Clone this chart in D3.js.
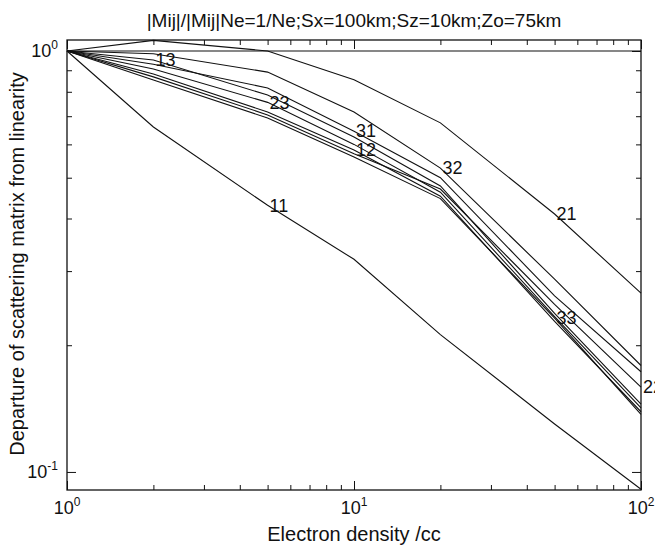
<!DOCTYPE html>
<html>
<head>
<meta charset="utf-8">
<script src="https://cdn.jsdelivr.net/npm/d3@7"></script>
<style>
body { margin: 0; background: #fff; }
text { font-family: "Liberation Sans", Arial, Helvetica, sans-serif; fill: #111; }
</style>
</head>
<body>
<script>
// electron density (cc) at which each element was evaluated
var density = [1, 2, 5, 10, 20, 50, 100];

// departure from linearity of each scattering matrix element
var m11 = [1, 0.66, 0.43, 0.32, 0.212, 0.13, 0.091];
var m12 = [1, 0.882, 0.716, 0.582, 0.452, 0.228, 0.139];
var m13 = [1, 0.952, 0.786, 0.625, 0.478, 0.238, 0.145];
var m21 = [1, 1.06, 1.0, 0.855, 0.675, 0.41, 0.266];
var m22 = [1, 0.868, 0.705, 0.57, 0.47, 0.25, 0.159];
var m23 = [1, 0.906, 0.755, 0.60, 0.462, 0.234, 0.142];
var m31 = [1, 0.93, 0.817, 0.645, 0.50, 0.262, 0.173];
var m32 = [1, 0.985, 0.891, 0.716, 0.527, 0.287, 0.179];
var m33 = [1, 0.853, 0.693, 0.56, 0.446, 0.232, 0.137];
var unity = [1, 1, 1, 1, 1, 1, 1];

var names = ["11", "12", "13", "21", "22", "23", "31", "32", "33"];
// index into density where each element's name is written
var labelAt = [2, 3, 1, 5, 6, 2, 3, 4, 5];

var xTickExp = [0, 1, 2];
var yTickExp = [0, -1];

var series = [m11, m12, m13, m21, m22, m23, m31, m32, m33];

var width = 655, height = 548;

var x = d3.scaleLog().domain([1, 100]).range([67, 641]);
var y = d3.scaleLog().domain([0.0906, 1.062]).range([490, 40]);

var svg = d3.select("body").append("svg")
    .attr("width", width)
    .attr("height", height)
    .style("color", "#111");

var xMajor = xTickExp.map(function(e) { return Math.pow(10, e); });
var yMajor = yTickExp.map(function(e) { return Math.pow(10, e); });
var xMinor = x.ticks().filter(function(v) { return xMajor.indexOf(v) < 0; });
var yMinor = y.ticks().filter(function(v) { return yMajor.indexOf(v) < 0 && v > 0.15; });

// ticks point inward on all four sides
function ticks(axisFn, scale, values, size, tr) {
  svg.append("g")
      .attr("transform", tr)
      .call(axisFn(scale).tickValues(values).tickSize(-size).tickSizeOuter(0).tickFormat(""))
      .call(function(g) { g.select(".domain").remove(); })
      .selectAll("line").attr("stroke-width", 1);
}
ticks(d3.axisBottom, x, xMajor, 9, "translate(0,490)");
ticks(d3.axisBottom, x, xMinor, 5, "translate(0,490)");
ticks(d3.axisTop, x, xMajor, 9, "translate(0,40)");
ticks(d3.axisTop, x, xMinor, 5, "translate(0,40)");
ticks(d3.axisLeft, y, yMajor, 9, "translate(67,0)");
ticks(d3.axisLeft, y, yMinor, 5, "translate(67,0)");
ticks(d3.axisRight, y, yMajor, 9, "translate(641,0)");
ticks(d3.axisRight, y, yMinor, 5, "translate(641,0)");

svg.append("rect")
    .attr("x", x(1)).attr("y", y.range()[1])
    .attr("width", x(100) - x(1))
    .attr("height", y.range()[0] - y.range()[1])
    .attr("fill", "none")
    .attr("stroke", "#111")
    .attr("stroke-width", 1.3);

// tick labels 10^n
var xl = svg.append("g").selectAll("text")
    .data(xTickExp)
    .enter().append("text")
      .attr("x", function(d) { return x(Math.pow(10, d)); })
      .attr("y", 514)
      .attr("text-anchor", "middle")
      .style("font-size", "18px")
      .text("10");
xl.append("tspan")
    .attr("dy", -8)
    .style("font-size", "12px")
    .text(function(d) { return d; });

var yl = svg.append("g").selectAll("text")
    .data(yTickExp)
    .enter().append("text")
      .attr("x", 58)
      .attr("y", function(d) { return y(Math.pow(10, d)) + 6; })
      .attr("text-anchor", "end")
      .style("font-size", "18px")
      .text("10");
yl.append("tspan")
    .attr("dy", -8)
    .style("font-size", "12px")
    .text(function(d) { return d; });

var line = d3.line()
    .x(function(d, i) { return x(density[i]); })
    .y(function(d) { return y(d); });

svg.append("path")
    .attr("d", line(unity))
    .attr("fill", "none")
    .attr("stroke", "#111")
    .attr("stroke-width", 1.2);

svg.append("g").selectAll("path")
    .data(series)
    .enter().append("path")
      .attr("d", line)
      .attr("fill", "none")
      .attr("stroke", "#111")
      .attr("stroke-width", 1.1);

svg.append("g").selectAll("text")
    .data(names)
    .enter().append("text")
      .attr("x", function(d, i) { return x(density[labelAt[i]]) + 2; })
      .attr("y", function(d, i) { return y(series[i][labelAt[i]]); })
      .attr("dy", "0.35em")
      .style("font-size", "18px")
      .text(function(d) { return d; });

svg.append("text")
    .attr("x", 354)
    .attr("y", 27)
    .attr("text-anchor", "middle")
    .style("font-size", "19px")
    .text("|Mij|/|Mij|Ne=1/Ne;Sx=100km;Sz=10km;Zo=75km");

svg.append("text")
    .attr("x", 354)
    .attr("y", 541)
    .attr("text-anchor", "middle")
    .style("font-size", "20px")
    .text("Electron density /cc");

svg.append("text")
    .attr("transform", "translate(24,264)rotate(-90)")
    .attr("text-anchor", "middle")
    .style("font-size", "20px")
    .text("Departure of scattering matrix from linearity");
</script>
</body>
</html>
